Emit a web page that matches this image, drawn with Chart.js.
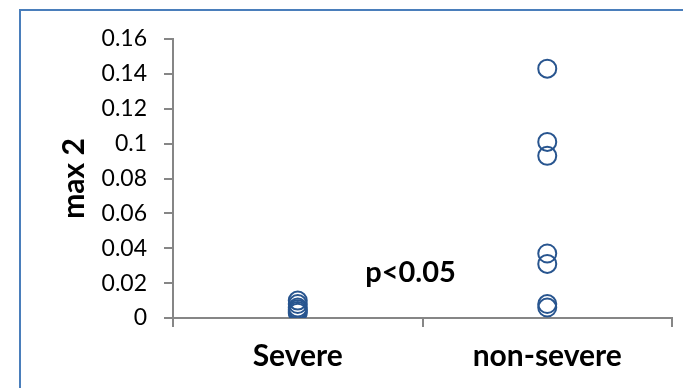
<!DOCTYPE html>
<html>
<head>
<meta charset="utf-8">
<script src="https://cdn.jsdelivr.net/npm/chart.js@4/dist/chart.umd.min.js"></script>
<style>
  body { margin: 0; background: #fff; }
  #frame { position: absolute; left: 19px; top: 9px; width: 700px; height: 420px; border: 2px solid #4a7ebb; }
  #wrap { position: absolute; left: 0; top: 0; width: 683px; height: 388px; }
</style>
</head>
<body>
<div id="frame"></div>
<div id="wrap"><canvas id="myChart"></canvas></div>
<script>
var categories = ['Severe', 'non-severe'];
var severeValues = [0.010, 0.008, 0.006, 0.005, 0.004, 0.003];
var nonSevereValues = [0.143, 0.101, 0.093, 0.037, 0.031, 0.008, 0.006];
var yTicks = [0, 0.02, 0.04, 0.06, 0.08, 0.1, 0.12, 0.14, 0.16];
var yTickLabels = ['0', '0.02', '0.04', '0.06', '0.08', '0.1', '0.12', '0.14', '0.16'];
var yTitle = 'max 2';
var note = 'p<0.05';

var points = [];
severeValues.forEach(function(v){ points.push({x: categories[0], y: v}); });
nonSevereValues.forEach(function(v){ points.push({x: categories[1], y: v}); });

var axisGrey = '#868686';

// p value text between the two groups
var notePlugin = {
  id: 'note',
  afterDraw: function(c) {
    var ctx = c.ctx;
    var x = c.scales.x.getPixelForValue(0.5) - 12;
    var y = c.scales.y.getPixelForValue(0.02) - 1;
    ctx.save();
    ctx.font = 'bold 29px Lato';
    ctx.fillStyle = '#000';
    ctx.textAlign = 'center';
    ctx.textBaseline = 'alphabetic';
    ctx.fillText(note, x, y);
    ctx.restore();
  }
};

var chart;
window.addEventListener('load', function(){
  var ctx = document.getElementById('myChart').getContext('2d');
  chart = new Chart(ctx, {
    type: 'line',
    data: {
      labels: categories,
      datasets: [{
        data: points,
        showLine: false,
        pointStyle: 'circle',
        pointRadius: 9,
        pointHoverRadius: 9,
        pointBorderWidth: 2,
        borderColor: '#28558f',
        pointBorderColor: '#28558f',
        pointBackgroundColor: 'rgba(0,0,0,0)'
      }]
    },
    options: {
      responsive: true,
      maintainAspectRatio: false,
      animation: false,
      layout: { padding: { top: 39, right: 11, left: 0, bottom: 0 } },
      plugins: { legend: { display: false }, tooltip: { enabled: false } },
      scales: {
        x: {
          type: 'category',
          offset: true,
          grid: { offset: true, drawOnChartArea: false, drawTicks: true, tickLength: 9, color: axisGrey, lineWidth: 2 },
          border: { display: true, color: axisGrey, width: 2 },
          ticks: { color: '#000', padding: 11, font: { family: 'Lato', size: 30, weight: 'bold' } },
          afterFit: function(s){ s.height = 70; }
        },
        y: {
          min: 0,
          max: 0.16,
          grid: { drawOnChartArea: false, drawTicks: true, tickLength: 9, color: axisGrey, lineWidth: 2 },
          border: { display: true, color: axisGrey, width: 2 },
          afterBuildTicks: function(s){ s.ticks = yTicks.map(function(v){ return {value: v}; }); },
          ticks: {
            color: '#000',
            padding: 17,
            font: { family: 'Lato', size: 23 },
            callback: function(v, i){ return yTickLabels[i]; }
          },
          title: {
            display: true,
            text: yTitle,
            color: '#000',
            font: { family: 'Lato', size: 30, weight: 'bold' },
            padding: { top: 56, bottom: 0 }
          },
          afterFit: function(s){ s.width = 173; }
        }
      }
    },
    plugins: [notePlugin]
  });
});
</script>
</body>
</html>
